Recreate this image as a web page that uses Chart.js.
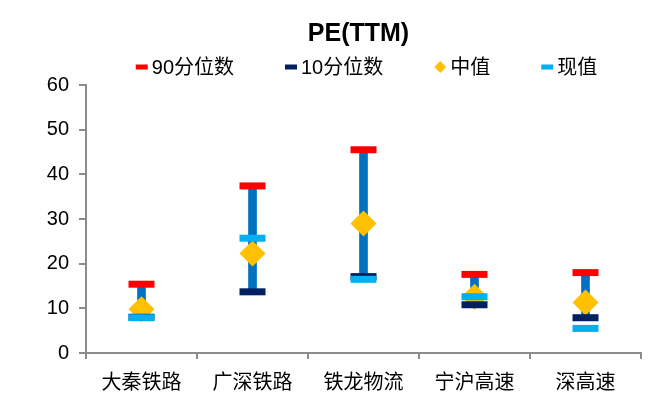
<!DOCTYPE html>
<html>
<head>
<meta charset="utf-8">
<script src="https://cdn.jsdelivr.net/npm/chart.js@4/dist/chart.umd.min.js"></script>
<style>
html,body{margin:0;padding:0;background:#fff;}
#wrap{width:672px;height:417px;}
</style>
</head>
<body>
<div id="wrap"><canvas id="c" width="672" height="417"></canvas></div>
<script>
const categories = ['大秦铁路', '广深铁路', '铁龙物流', '宁沪高速', '深高速'];
const p90 = [15.4, 37.4, 45.5, 17.6, 18.0];
const p10 = [8.0, 13.7, 17.1, 10.8, 7.9];
const median = [9.8, 22.3, 29.0, 12.6, 11.3];
const current = [7.9, 25.7, 16.5, 12.6, 5.5];
const yTicks = [0, 10, 20, 30, 40, 50, 60];

const FONT = '"Liberation Sans", Arial, "Noto Sans CJK SC", sans-serif';

// Legend drawn centred over the plot area with wide gaps between items
const legendPlugin = {
  id: 'customLegend',
  afterDraw(chart) {
    const ctx = chart.ctx;
    const items = chart.data.datasets.slice(0, 4);
    const fontSize = 20;
    ctx.save();
    ctx.font = fontSize + 'px ' + FONT;
    const markW = 12, markGap = 4, itemGap = 51;
    const widths = items.map(d => markW + markGap + ctx.measureText(d.label).width);
    const total = widths.reduce((a, b) => a + b, 0) + itemGap * (items.length - 1);
    const cx = (chart.chartArea.left + chart.chartArea.right) / 2 + 3;
    let x = cx - total / 2;
    const y = 67;
    items.forEach((d, i) => {
      const mx = x + markW / 2;
      if (d.pointStyle === 'rectRot') {
        ctx.fillStyle = d.backgroundColor;
        ctx.beginPath();
        ctx.moveTo(mx, y - 6); ctx.lineTo(mx + 6, y); ctx.lineTo(mx, y + 6); ctx.lineTo(mx - 6, y);
        ctx.closePath(); ctx.fill();
      } else {
        ctx.fillStyle = d.borderColor;
        ctx.fillRect(x, y - 2.5, markW, 5);
      }
      ctx.fillStyle = '#000';
      ctx.textBaseline = 'middle';
      ctx.textAlign = 'left';
      ctx.fillText(d.label, x + markW + markGap, y + 1);
      x += widths[i] + itemGap;
    });
    ctx.restore();
  }
};

const centerPlugin = {
  id: 'centerTitle',
  afterLayout(chart) {
    const l = chart.chartArea.left - 10, r = chart.chartArea.right;
    const b = chart.titleBlock;
    if (b) { b.left = l; b.right = r; b.width = r - l; }
  }
};

new Chart(document.getElementById('c'), {
  type: 'bar',
  data: {
    labels: categories,
    datasets: [
      {
        type: 'line', label: '90分位数', data: p90, showLine: false,
        pointStyle: 'line', pointRadius: 13, pointBorderWidth: 7, borderWidth: 7,
        borderColor: '#FF0000', backgroundColor: '#FF0000', order: 1
      },
      {
        type: 'line', label: '10分位数', data: p10, showLine: false,
        pointStyle: 'line', pointRadius: 13, pointBorderWidth: 7, borderWidth: 7,
        borderColor: '#002060', backgroundColor: '#002060', order: 3
      },
      {
        type: 'line', label: '中值', data: median, showLine: false,
        pointStyle: 'rectRot', pointRadius: 13, pointBorderWidth: 0, borderWidth: 0,
        borderColor: '#FFC000', backgroundColor: '#FFC000', order: 4
      },
      {
        type: 'line', label: '现值', data: current, showLine: false,
        pointStyle: 'line', pointRadius: 13, pointBorderWidth: 7, borderWidth: 7,
        borderColor: '#00B0F0', backgroundColor: '#00B0F0', order: 2
      },
      {
        type: 'bar', label: 'range', data: categories.map((c, i) => [p10[i], p90[i]]),
        backgroundColor: '#0070C0', borderWidth: 0, barThickness: 8, order: 5
      }
    ]
  },
  options: {
    responsive: false,
    animation: false,
    devicePixelRatio: 1,
    layout: { padding: { left: 0, right: 31, top: 0, bottom: 10 } },
    plugins: {
      tooltip: { enabled: false },
      legend: { display: false },
      title: {
        display: true, text: 'PE(TTM)', color: '#000',
        font: { family: FONT, size: 25, weight: 'bold' },
        padding: { top: 19, bottom: 36 }
      }
    },
    scales: {
      x: {
        offset: true,
        grid: { display: true, drawOnChartArea: false, offset: true, tickLength: 6, color: '#8C8C8C', lineWidth: 2 },
        border: { display: true, color: '#8C8C8C', width: 2 },
        ticks: { color: '#000', font: { family: FONT, size: 20 }, padding: 12, maxRotation: 0 }
      },
      y: {
        min: 0, max: 60,
        afterBuildTicks(axis) { axis.ticks = yTicks.map(v => ({ value: v })); },
        afterFit(axis) { axis.width = 86; },
        grid: { display: true, drawOnChartArea: false, tickLength: 7, color: '#8C8C8C', lineWidth: 2 },
        border: { display: true, color: '#8C8C8C', width: 2 },
        ticks: { color: '#000', font: { family: FONT, size: 20 }, padding: 10 }
      }
    }
  },
  plugins: [centerPlugin, legendPlugin]
});
</script>
</body>
</html>
